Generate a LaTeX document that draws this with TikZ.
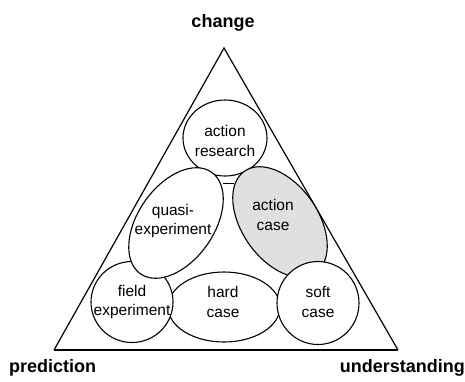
\documentclass[tikz,border=0pt]{standalone}
\usepackage{fontspec}
\setmainfont{Liberation Sans}
\usetikzlibrary{shapes.geometric}
\begin{document}
\begin{tikzpicture}[x=1pt,y=-1pt,
  shp/.style={draw, line width=1.1pt, fill=white, inner sep=0pt},
  circ/.style={shp, ellipse},
  lbl/.style={font=\fontsize{15.5}{19.5}\selectfont, align=center, inner sep=0pt},
  corner/.style={font=\fontsize{18}{20}\bfseries, inner sep=0pt}]
\useasboundingbox (0,0) rectangle (465,381);
% triangle
\coordinate (top) at (224,48);
\coordinate (bl) at (54,350);
\coordinate (br) at (398,350);
\draw[line width=1.2pt, line join=miter] (bl) -- (top) -- (br);
\draw[line width=2pt] (bl) -- (br);
% shapes
\node[circ, minimum width=84, minimum height=76] (ar) at (225,138) {};
\node[circ, minimum width=112, minimum height=70] (hc) at (224,307) {};
\node[circ, minimum width=82, minimum height=81] (fe) at (132,302) {};
\node[circ, minimum width=124, minimum height=76, rotate=55] (qe) at (176,223) {};
\node[circ, fill=gray!24, minimum width=124, minimum height=76, rotate=-55] (ac) at (280,222) {};
\node[circ, minimum width=82, minimum height=83] (sc) at (318,303) {};
\coordinate (l1) at (223,183);
\coordinate (l2) at (234,183);
\draw[line width=1pt] (l1) -- (l2);
% texts
\node[lbl] (tar) at (225,141) {action\\research};
\node[lbl] (tqe) at (173,221) {quasi-\\experiment};
\node[lbl] (tac) at (273,215) {action\\case};
\node[lbl] (tfe) at (132,302) {field\\experiment};
\node[lbl] (thc) at (223,302) {hard\\case};
\node[lbl] (tsc) at (318,302) {soft\\case};
% corner labels
\node[corner] (ch) at (223,23) {change};
\node[corner, anchor=west] (pr) at (9,368) {prediction};
\node[corner, anchor=east] (un) at (465,368) {understanding};
\end{tikzpicture}
\end{document}
